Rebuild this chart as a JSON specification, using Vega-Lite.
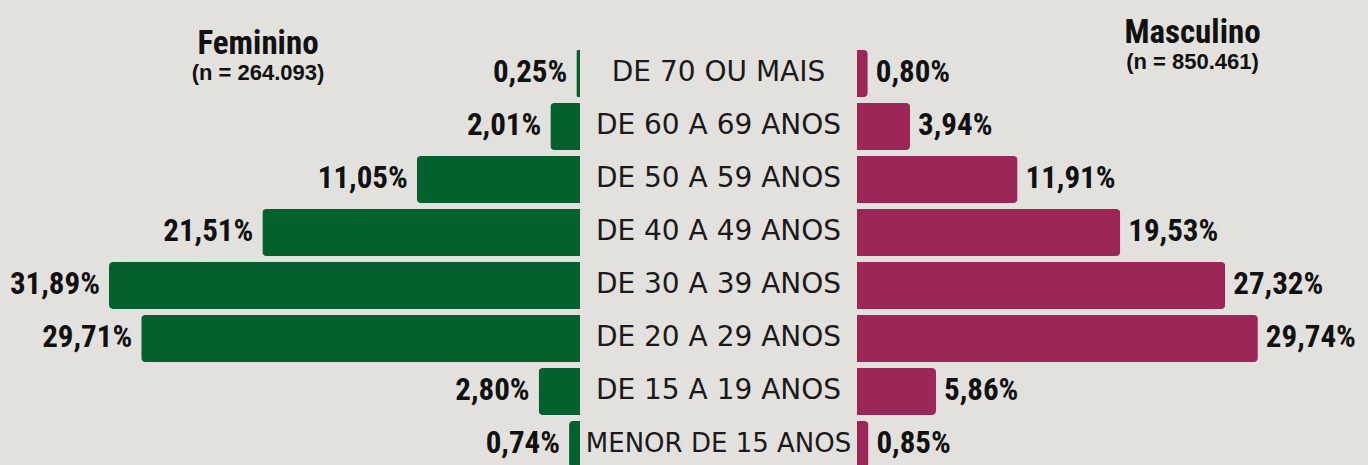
{
  "$schema": "https://vega.github.io/schema/vega-lite/v6.json",
  "background": "#E3E1DE",
  "padding": 0,
  "spacing": 0,
  "bounds": "flush",
  "config": {
    "view": {"stroke": null},
    "locale": {"number": {"decimal": ",", "thousands": ".", "grouping": [3], "currency": ["R$", ""]}}
  },
  "datasets": {
    "pyr": [
      {"faixa": "DE 70 OU MAIS", "sexo": "Feminino", "p": 0.0025},
      {"faixa": "DE 60 A 69 ANOS", "sexo": "Feminino", "p": 0.0201},
      {"faixa": "DE 50 A 59 ANOS", "sexo": "Feminino", "p": 0.1105},
      {"faixa": "DE 40 A 49 ANOS", "sexo": "Feminino", "p": 0.2151},
      {"faixa": "DE 30 A 39 ANOS", "sexo": "Feminino", "p": 0.3189},
      {"faixa": "DE 20 A 29 ANOS", "sexo": "Feminino", "p": 0.2971},
      {"faixa": "DE 15 A 19 ANOS", "sexo": "Feminino", "p": 0.0280},
      {"faixa": "MENOR DE 15 ANOS", "sexo": "Feminino", "p": 0.0074},
      {"faixa": "DE 70 OU MAIS", "sexo": "Masculino", "p": 0.0080},
      {"faixa": "DE 60 A 69 ANOS", "sexo": "Masculino", "p": 0.0394},
      {"faixa": "DE 50 A 59 ANOS", "sexo": "Masculino", "p": 0.1191},
      {"faixa": "DE 40 A 49 ANOS", "sexo": "Masculino", "p": 0.1953},
      {"faixa": "DE 30 A 39 ANOS", "sexo": "Masculino", "p": 0.2732},
      {"faixa": "DE 20 A 29 ANOS", "sexo": "Masculino", "p": 0.2974},
      {"faixa": "DE 15 A 19 ANOS", "sexo": "Masculino", "p": 0.0586},
      {"faixa": "MENOR DE 15 ANOS", "sexo": "Masculino", "p": 0.0085}
    ]
  },
  "hconcat": [
    {
      "width": 580,
      "height": 471,
      "data": {"name": "pyr"},
      "transform": [{"filter": "datum.sexo === 'Feminino'"}],
      "title": {
        "text": "Feminino",
        "subtitle": "(n = 264.093)",
        "anchor": "middle",
        "frame": "group",
        "dx": -32,
        "offset": -84,
        "font": "'Roboto Condensed', 'DejaVu Sans Condensed', sans-serif",
        "fontSize": 33,
        "fontWeight": "bold",
        "color": "#111111",
        "subtitleFont": "Liberation Sans",
        "subtitleFontSize": 22,
        "subtitleFontWeight": "bold",
        "subtitleColor": "#111111",
        "subtitlePadding": 2
      },
      "encoding": {
        "y": {
          "field": "faixa",
          "type": "nominal",
          "sort": ["DE 70 OU MAIS", "DE 60 A 69 ANOS", "DE 50 A 59 ANOS", "DE 40 A 49 ANOS", "DE 30 A 39 ANOS", "DE 20 A 29 ANOS", "DE 15 A 19 ANOS", "MENOR DE 15 ANOS"],
          "axis": null,
          "scale": {"type": "band", "paddingInner": 0.113, "paddingOuter": 0.5, "align": 0.943}
        },
        "x": {
          "field": "p",
          "type": "quantitative",
          "axis": null,
          "scale": {"domain": [0, 0.3927], "reverse": true, "nice": false, "zero": true}
        }
      },
      "layer": [
        {"mark": {"type": "bar", "color": "#04612E", "cornerRadiusTopLeft": 4, "cornerRadiusBottomLeft": 4}},
        {
          "mark": {"type": "text", "align": "right", "baseline": "middle", "dx": -9, "font": "'Roboto Condensed', 'DejaVu Sans Condensed', sans-serif", "fontWeight": "bold", "fontSize": 31, "color": "#111111"},
          "encoding": {"text": {"field": "p", "type": "quantitative", "format": ".2%"}}
        }
      ]
    },
    {
      "width": 277,
      "height": 471,
      "data": {"name": "pyr"},
      "transform": [{"filter": "datum.sexo === 'Feminino'"}],
      "mark": {"type": "text", "align": "center", "baseline": "middle", "font": "DejaVu Sans", "color": "#1A1A1A"},
      "encoding": {
        "y": {
          "field": "faixa",
          "type": "nominal",
          "sort": ["DE 70 OU MAIS", "DE 60 A 69 ANOS", "DE 50 A 59 ANOS", "DE 40 A 49 ANOS", "DE 30 A 39 ANOS", "DE 20 A 29 ANOS", "DE 15 A 19 ANOS", "MENOR DE 15 ANOS"],
          "axis": null,
          "scale": {"type": "band", "paddingInner": 0.113, "paddingOuter": 0.5, "align": 0.943}
        },
        "text": {"field": "faixa", "type": "nominal"},
        "size": {"condition": {"test": "datum.faixa === 'MENOR DE 15 ANOS'", "value": 26}, "value": 28}
      }
    },
    {
      "width": 511,
      "height": 471,
      "data": {"name": "pyr"},
      "transform": [{"filter": "datum.sexo === 'Masculino'"}],
      "title": {
        "text": "Masculino",
        "subtitle": "(n = 850.461)",
        "anchor": "middle",
        "frame": "group",
        "dx": 80,
        "offset": -73,
        "font": "'Roboto Condensed', 'DejaVu Sans Condensed', sans-serif",
        "fontSize": 33,
        "fontWeight": "bold",
        "color": "#111111",
        "subtitleFont": "Liberation Sans",
        "subtitleFontSize": 22,
        "subtitleFontWeight": "bold",
        "subtitleColor": "#111111",
        "subtitlePadding": 2
      },
      "encoding": {
        "y": {
          "field": "faixa",
          "type": "nominal",
          "sort": ["DE 70 OU MAIS", "DE 60 A 69 ANOS", "DE 50 A 59 ANOS", "DE 40 A 49 ANOS", "DE 30 A 39 ANOS", "DE 20 A 29 ANOS", "DE 15 A 19 ANOS", "MENOR DE 15 ANOS"],
          "axis": null,
          "scale": {"type": "band", "paddingInner": 0.113, "paddingOuter": 0.5, "align": 0.943}
        },
        "x": {
          "field": "p",
          "type": "quantitative",
          "axis": null,
          "scale": {"domain": [0, 0.3791], "nice": false, "zero": true}
        }
      },
      "layer": [
        {"mark": {"type": "bar", "color": "#9C2658", "cornerRadiusTopRight": 4, "cornerRadiusBottomRight": 4}},
        {
          "mark": {"type": "text", "align": "left", "baseline": "middle", "dx": 8, "font": "'Roboto Condensed', 'DejaVu Sans Condensed', sans-serif", "fontWeight": "bold", "fontSize": 31, "color": "#111111"},
          "encoding": {"text": {"field": "p", "type": "quantitative", "format": ".2%"}}
        }
      ]
    }
  ]
}
